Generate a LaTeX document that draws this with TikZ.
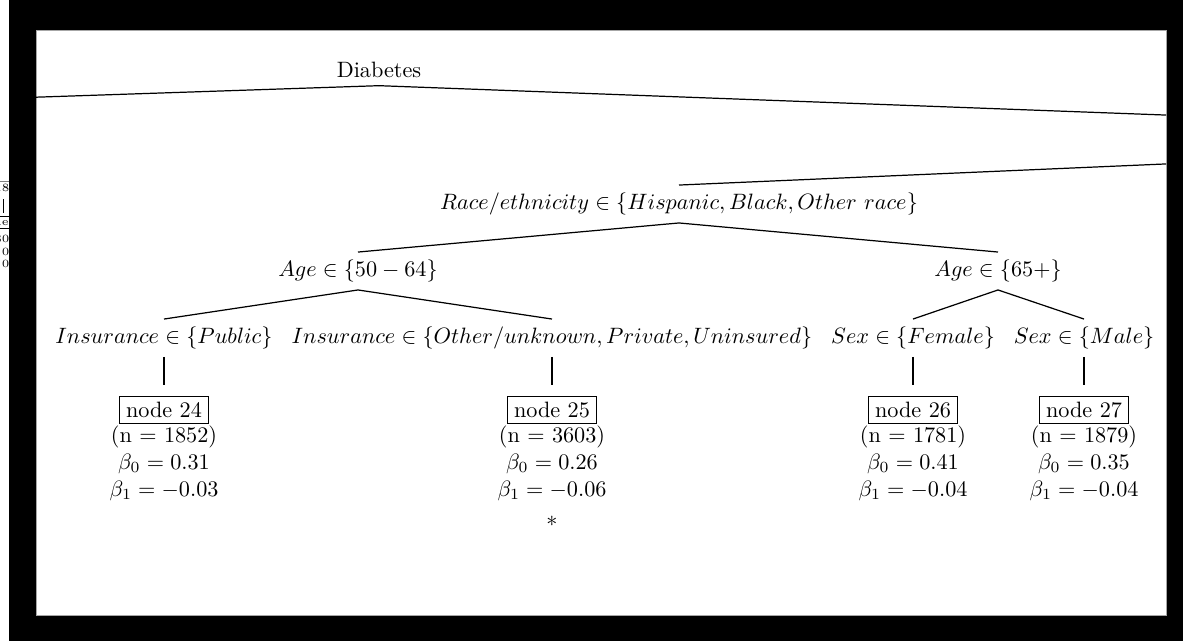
\documentclass[tikz,border=0pt]{standalone}
\begin{document}
\begin{tikzpicture}[x=0.45pt,y=-0.45pt,
  lab/.style={inner sep=3.33pt},
  leafbox/.style={draw, inner xsep=3pt, inner ysep=2.6pt, line width=0.5pt},
  info/.style={inner sep=0pt},
  edge/.style={line width=0.55pt},
  frag/.style={inner sep=0pt, font=\tiny}]
\useasboundingbox (0,0) rectangle (1183,641);
\fill[white] (0,0) rectangle (1183,641);
% fragments of another picture at the far left
\begin{scope}
\clip (0,0) rectangle (9,641);
\draw[line width=0.3pt,gray] (0,181) -- (9,181);
\node[frag, anchor=east] (f1) at (10,188) {18};
\draw[line width=0.4pt] (3,199) -- (3,213);
\draw[line width=0.3pt] (0,216) -- (9,216);
\node[frag, anchor=east] (f2) at (9,222) {de};
\draw[line width=0.3pt] (0,228) -- (9,228);
\node[frag, anchor=east] (f3) at (10,239) {80};
\node[frag, anchor=east] (f4) at (10,252) {$=0$};
\node[frag, anchor=east] (f5) at (10,264) {$=0$};
\end{scope}
% screenshot frame
\fill[black] (9,0) rectangle (1183,641);
\fill[white] (36,30) rectangle (1166,615);
\draw[gray!70, line width=0.3pt] (36,30) rectangle (1166,615);
\begin{scope}
\clip (36,30) rectangle (1166,615);
\node[lab] (diab) at (379,70) {Diabetes};
\coordinate (offL) at (0,98.4);
\coordinate (offR) at (1183,115.7);
\coordinate (offR2) at (1183,163.2);
\node[lab] (race) at (679,204) {$Race/ethnicity \in \{Hispanic, Black, Other\ race\}$};
\node[lab] (age1) at (358,271) {$Age \in \{50-64\}$};
\node[lab] (age2) at (998,271) {$Age \in \{65+\}$};
\node[lab] (ins1) at (164,338) {$Insurance \in \{Public\}$};
\node[lab] (ins2) at (552,338) {$Insurance \in \{Other/unknown, Private, Uninsured\}$};
\node[lab] (sex1) at (913,338) {$Sex \in \{Female\}$};
\node[lab] (sex2) at (1084,338) {$Sex \in \{Male\}$};
\node[leafbox] (n24) at (164,410) {node 24};
\node[leafbox] (n25) at (552,410) {node 25};
\node[leafbox] (n26) at (913,410) {node 26};
\node[leafbox] (n27) at (1084,410) {node 27};
\foreach \nm/\x/\n/\bz/\bo in {24/164/1852/0.31/-0.03, 25/552/3603/0.26/-0.06, 26/913/1781/0.41/-0.04, 27/1084/1879/0.35/-0.04}{
  \node[info] (cnt\nm) at (\x,437) {(n = \n)};
  \node[info] (bz\nm) at (\x,464) {$\beta_0 = \bz$};
  \node[info] (bo\nm) at (\x,491) {$\beta_1 = \bo$};
}
\node[info] (star25) at (552,521) {$*$};
\draw[edge] (diab.south) -- (offL);
\draw[edge] (diab.south) -- (offR);
\draw[edge] (race.north) -- (offR2);
\draw[edge] (race.south) -- (age1.north);
\draw[edge] (race.south) -- (age2.north);
\draw[edge] (age1.south) -- (ins1.north);
\draw[edge] (age1.south) -- (ins2.north);
\draw[edge] (age2.south) -- (sex1.north);
\draw[edge] (age2.south) -- (sex2.north);
\draw[edge, shorten >=5pt] (ins1.south) -- (n24.north);
\draw[edge, shorten >=5pt] (ins2.south) -- (n25.north);
\draw[edge, shorten >=5pt] (sex1.south) -- (n26.north);
\draw[edge, shorten >=5pt] (sex2.south) -- (n27.north);
\end{scope}
\end{tikzpicture}
\end{document}
